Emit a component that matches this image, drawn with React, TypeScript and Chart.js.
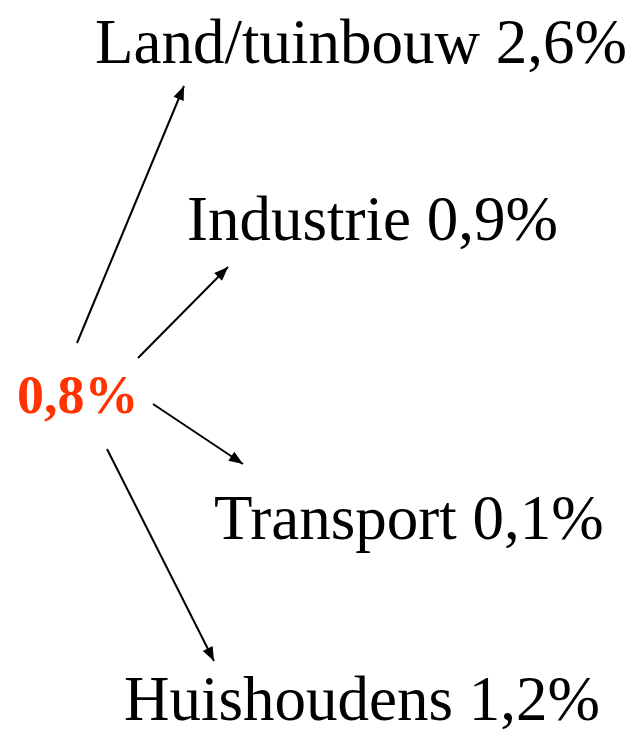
import React, { useEffect, useRef } from 'react';
import { Chart, registerables } from 'chart.js';

Chart.register(...registerables);

// Data
const categories = ['Land/tuinbouw', 'Industrie', 'Transport', 'Huishoudens'];
const values = [2.6, 0.9, 0.1, 1.2];
const totalValue = 0.8;

// Layout (in canvas pixel units mapped 1:1 by the hidden scales)
const labelAnchors = [
  [95, 63],
  [187, 240],
  [214, 539],
  [124, 720],
];
const arrowStarts = [
  [77, 343],
  [138, 358],
  [153, 404],
  [107, 449],
];
const arrowEnds = [
  [184, 86],
  [228, 267],
  [243, 464],
  [214, 661],
];
const totalAnchor = [17, 413];

const W = 631;
const H = 731;

const fmt = (v: number) => v.toFixed(1).replace('.', ',') + '%';

const diagramPlugin = {
  id: 'diagram',
  afterDatasetsDraw(chart: any) {
    const ctx = chart.ctx;
    const xs = chart.scales.x;
    const ys = chart.scales.y;
    ctx.save();
    // arrowheads
    chart.data.datasets.forEach((ds: any, i: number) => {
      const meta = chart.getDatasetMeta(i);
      const pts = meta.data;
      if (pts.length < 2) return;
      const a = pts[0];
      const b = pts[pts.length - 1];
      const ang = Math.atan2(b.y - a.y, b.x - a.x);
      const len = 14;
      const half = 5.5;
      ctx.fillStyle = '#000';
      ctx.beginPath();
      ctx.moveTo(b.x, b.y);
      ctx.lineTo(
        b.x - len * Math.cos(ang) + half * Math.sin(ang),
        b.y - len * Math.sin(ang) - half * Math.cos(ang)
      );
      ctx.lineTo(
        b.x - len * Math.cos(ang) - half * Math.sin(ang),
        b.y - len * Math.sin(ang) + half * Math.cos(ang)
      );
      ctx.closePath();
      ctx.fill();
    });
    // labels
    ctx.textAlign = 'left';
    ctx.textBaseline = 'alphabetic';
    ctx.fillStyle = '#000';
    ctx.font = '63px "Liberation Serif", "Times New Roman", serif';
    categories.forEach((c, i) => {
      const [lx, ly] = labelAnchors[i];
      ctx.fillText(`${c} ${fmt(values[i])}`, xs.getPixelForValue(lx), ys.getPixelForValue(ly));
    });
    ctx.fillStyle = '#FF3300';
    ctx.font = 'bold 54px "Liberation Serif", "Times New Roman", serif';
    ctx.fillText(
      fmt(totalValue),
      xs.getPixelForValue(totalAnchor[0]),
      ys.getPixelForValue(totalAnchor[1])
    );
    ctx.restore();
  },
};

export default function App() {
  const ref = useRef<HTMLCanvasElement | null>(null);
  useEffect(() => {
    if (!ref.current) return;
    const chart = new Chart(ref.current, {
      type: 'scatter',
      data: {
        datasets: categories.map((c, i) => ({
          label: c,
          data: [
            { x: arrowStarts[i][0], y: arrowStarts[i][1] },
            { x: arrowEnds[i][0], y: arrowEnds[i][1] },
          ],
          showLine: true,
          borderColor: '#000',
          borderWidth: 2,
          pointRadius: 0,
          pointHoverRadius: 0,
          fill: false,
        })),
      },
      options: {
        responsive: false,
        animation: false,
        devicePixelRatio: 1,
        layout: { padding: 0 },
        plugins: {
          legend: { display: false },
          tooltip: { enabled: false },
          title: { display: false },
        },
        events: [],
        scales: {
          x: { type: 'linear', min: 0, max: W, display: false },
          y: { type: 'linear', min: 0, max: H, reverse: true, display: false },
        },
      },
      plugins: [diagramPlugin],
    });
    return () => chart.destroy();
  }, []);
  return (
    <div style={{ position: 'fixed', left: 0, top: 0, width: W, height: H, background: '#fff' }}>
      <canvas ref={ref} width={W} height={H} style={{ display: 'block', width: W, height: H }} />
    </div>
  );
}
